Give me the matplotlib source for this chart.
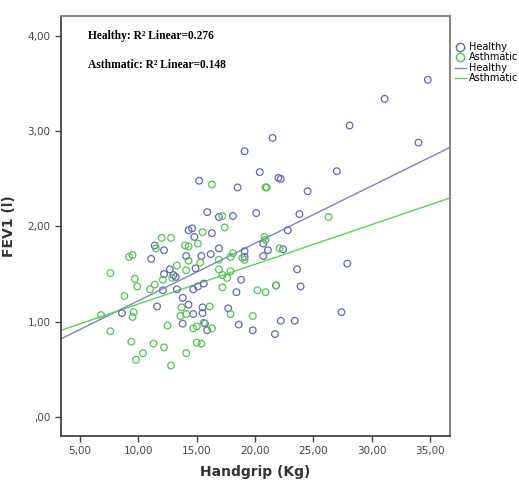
import matplotlib.pyplot as plt
from matplotlib.lines import Line2D

# Healthy group: handgrip (kg) vs FEV1 (l)
healthy_grip = [34.8, 31.1, 28.1, 21.5, 34.0, 27.0, 22.0, 22.2, 24.5, 20.4,
                19.1, 15.2, 18.5, 15.9, 16.9, 18.1, 20.1, 23.8, 14.3, 14.6,
                16.3, 22.8, 14.8, 20.7, 11.4, 12.2, 16.9, 22.4, 21.1, 11.1,
                14.1, 15.4, 16.2, 19.1, 19.1, 20.7, 14.9, 12.7, 12.2, 13.0,
                13.2, 12.1, 13.3, 14.7, 15.1, 15.6, 18.8, 18.4, 21.8, 23.6,
                23.9, 27.9, 27.4, 13.8, 14.3, 15.5, 14.7, 15.5, 17.7, 11.6,
                8.6, 13.8, 15.9, 15.7, 18.6, 19.8, 22.2, 23.4, 21.7]
healthy_fev = [3.54, 3.34, 3.06, 2.93, 2.88, 2.58, 2.51, 2.50, 2.37, 2.57,
               2.79, 2.48, 2.41, 2.15, 2.10, 2.11, 2.14, 2.13, 1.96, 1.98,
               1.93, 1.96, 1.89, 1.82, 1.80, 1.75, 1.77, 1.76, 1.75, 1.66,
               1.69, 1.69, 1.71, 1.74, 1.68, 1.69, 1.56, 1.55, 1.50, 1.49,
               1.47, 1.33, 1.34, 1.34, 1.37, 1.40, 1.44, 1.31, 1.38, 1.55,
               1.37, 1.61, 1.10, 1.25, 1.18, 1.15, 1.08, 1.09, 1.14, 1.16,
               1.09, 0.98, 0.91, 0.98, 0.97, 0.91, 1.01, 1.01, 0.87]

# Asthmatic group
asthma_grip = [20.9, 16.3, 21.0, 17.2, 26.3, 17.4, 15.5, 12.0, 12.8, 20.8,
               20.9, 11.5, 14.0, 14.3, 15.1, 22.1, 9.2, 9.5, 7.6, 9.7,
               9.9, 8.8, 14.3, 16.9, 17.9, 18.1, 18.9, 19.1, 15.3, 13.3,
               14.1, 12.9, 12.1, 11.4, 11.0, 16.9, 17.9, 17.2, 17.6, 17.2,
               20.2, 20.9, 21.8, 13.7, 16.1, 13.6, 14.1, 17.9, 19.8, 6.8,
               9.6, 9.5, 7.6, 12.5, 14.7, 15.0, 15.6, 16.3, 9.4, 11.3,
               12.2, 15.0, 15.4, 10.4, 9.8, 14.1, 12.8]
asthma_fev = [2.41, 2.44, 2.41, 2.11, 2.10, 1.99, 1.94, 1.88, 1.88, 1.89,
              1.86, 1.77, 1.80, 1.79, 1.82, 1.77, 1.68, 1.70, 1.51, 1.45,
              1.37, 1.27, 1.64, 1.65, 1.68, 1.72, 1.67, 1.65, 1.62, 1.59,
              1.54, 1.46, 1.44, 1.39, 1.34, 1.55, 1.53, 1.49, 1.46, 1.36,
              1.33, 1.31, 1.38, 1.15, 1.16, 1.06, 1.08, 1.08, 1.06, 1.07,
              1.10, 1.05, 0.90, 0.96, 0.93, 0.95, 0.99, 0.93, 0.79, 0.77,
              0.73, 0.78, 0.77, 0.67, 0.60, 0.67, 0.54]

# linear fits (intercept, slope) and R2 text
healthy_fit = (0.617, 0.0603)
asthma_fit = (0.769, 0.0417)
r2_labels = ["Healthy: R² Linear=0.276", "Asthmatic: R² Linear=0.148"]

x_ticks = [5, 10, 15, 20, 25, 30, 35]
y_ticks = [0, 1, 2, 3, 4]

BLUE = "#5f6ab4"
GREEN = "#55c255"
BLUE_LINE = "#7c84c6"
GREEN_LINE = "#5ccf5c"

fig = plt.figure(figsize=(5.19, 4.8), dpi=100)
ax = fig.add_axes([0.1175, 0.0917, 0.7495, 0.875])

ax.scatter(healthy_grip, healthy_fev, s=23, facecolors="none", edgecolors=BLUE, linewidths=0.9, zorder=3)
ax.scatter(asthma_grip, asthma_fev, s=23, facecolors="none", edgecolors=GREEN, linewidths=0.9, zorder=3)

xmin, xmax = 3.37, 36.7
for fit, col in [(healthy_fit, BLUE_LINE), (asthma_fit, GREEN_LINE)]:
    b, m = fit
    ax.plot([xmin, xmax], [b + m * xmin, b + m * xmax], color=col, linewidth=1.0, zorder=2)

ax.set_xlim(xmin, xmax)
ax.set_ylim(-0.2, 4.21)
ax.set_xticks(x_ticks)
ax.set_xticklabels([("%.2f" % v).replace(".", ",") for v in x_ticks])
ax.set_yticks(y_ticks)
ax.set_yticklabels([",00" if v == 0 else ("%.2f" % v).replace(".", ",") for v in y_ticks])
ax.tick_params(direction="out", length=4, width=1, colors="#444444", labelsize=7.5)

for side in ["left", "bottom"]:
    ax.spines[side].set_color("#333333")
    ax.spines[side].set_linewidth(1.2)
for side in ["top", "right"]:
    ax.spines[side].set_color("#888888")
    ax.spines[side].set_linewidth(1.5)

ax.set_xlabel("Handgrip (Kg)", fontsize=10, fontweight="bold", color="#333333", labelpad=6)
ax.set_ylabel("FEV1 (l)", fontsize=10, fontweight="bold", color="#333333", labelpad=8)

fig.text(88 / 519, 1 - 36 / 480, r2_labels[0], fontsize=8.3, fontweight="bold",
         family="Liberation Serif", va="center", ha="left")
fig.text(88 / 519, 1 - 65 / 480, r2_labels[1], fontsize=8.3, fontweight="bold",
         family="Liberation Serif", va="center", ha="left")

handles = [
    Line2D([], [], marker="o", linestyle="none", markerfacecolor="none", markeredgecolor=BLUE, markersize=6),
    Line2D([], [], marker="o", linestyle="none", markerfacecolor="none", markeredgecolor=GREEN, markersize=6),
    Line2D([], [], color=BLUE_LINE, linewidth=1.0),
    Line2D([], [], color=GREEN_LINE, linewidth=1.0),
]
fig.legend(handles, ["Healthy", "Asthmatic", "Healthy", "Asthmatic"],
           loc="upper left", bbox_to_anchor=(455 / 519, 1 - 42 / 480),
           frameon=False, fontsize=7, handlelength=1.1, handletextpad=0.3,
           labelspacing=0.05, borderaxespad=0, borderpad=0)

fig.savefig("out.png", dpi=100)
